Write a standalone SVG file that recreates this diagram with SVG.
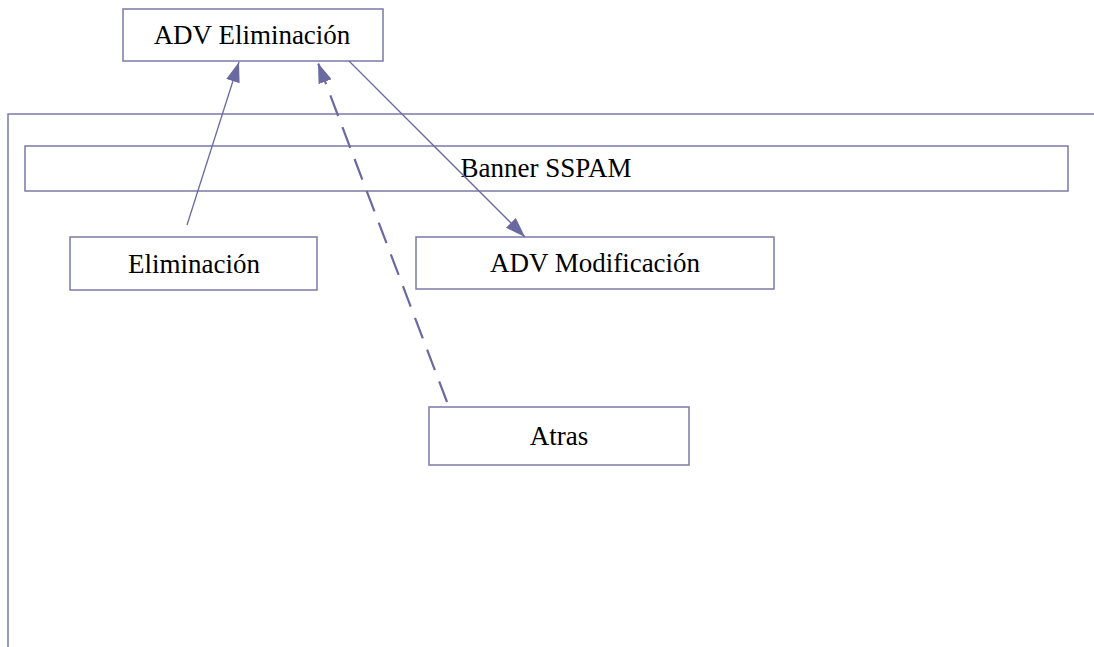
<svg xmlns="http://www.w3.org/2000/svg" width="1094" height="647" viewBox="0 0 1094 647">
<style>
.box{fill:#fff;stroke:#7a7aa8;stroke-width:1.5}
.t{font-family:"Liberation Serif","Times New Roman",serif;font-size:27px;fill:#000;text-anchor:middle}
.c{stroke:#6a6aa0;stroke-width:1.3;fill:none}
.d{stroke:#6a6aa0;stroke-width:2.2;fill:none;stroke-dasharray:22,12}
</style>
<defs>
<marker id="ah" viewBox="0 0 20 14" refX="20" refY="7" markerWidth="20" markerHeight="14" markerUnits="userSpaceOnUse" orient="auto">
<path d="M0,0 L20,7 L0,14 Z" fill="#6a6aa0"/>
</marker>
</defs>
<path d="M8,647 L8,114 L1094,114" fill="none" stroke="#7a7aa8" stroke-width="1.5"/>
<g id="banner"><rect class="box" x="25" y="146" width="1043" height="45"/><text class="t" x="546" y="177">Banner SSPAM</text></g>
<g id="adv-eliminacion"><rect class="box" x="123" y="9" width="260" height="52"/><text class="t" x="252" y="44">ADV Eliminación</text></g>
<g id="eliminacion"><rect class="box" x="70" y="237" width="247" height="53"/><text class="t" x="194" y="273">Eliminación</text></g>
<g id="adv-modificacion"><rect class="box" x="416" y="237" width="358" height="52"/><text class="t" x="595" y="272">ADV Modificación</text></g>
<g id="atras"><rect class="box" x="429" y="407" width="260" height="58"/><text class="t" x="559" y="445">Atras</text></g>
<g id="connectors">
<line class="c" x1="187" y1="225" x2="239" y2="62" marker-end="url(#ah)"/>
<line class="d" x1="447" y1="402" x2="318" y2="63" marker-end="url(#ah)"/>
<line class="c" x1="349" y1="61" x2="525" y2="237" marker-end="url(#ah)"/>
</g>
</svg>
